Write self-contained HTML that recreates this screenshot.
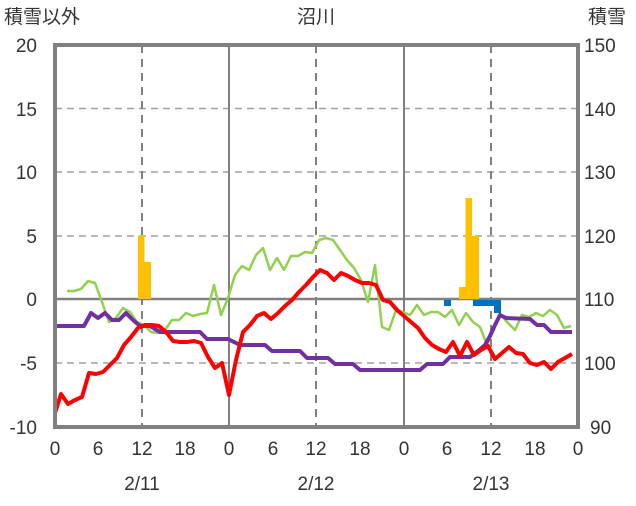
<!DOCTYPE html>
<html><head><meta charset="utf-8"><style>
body{margin:0;background:#fff;}
svg text{font-family:"Liberation Sans","Noto Sans CJK JP",sans-serif;fill:#333;font-size:19px;}
</style></head><body>
<svg width="636" height="501" viewBox="0 0 636 501" xmlns="http://www.w3.org/2000/svg">
<rect width="636" height="501" fill="#fff"/>
<g stroke="#a0a0a0" stroke-width="1.5" stroke-dasharray="7,5">
<line x1="55" y1="108.5" x2="578" y2="108.5"/>
<line x1="55" y1="172" x2="578" y2="172"/>
<line x1="55" y1="236" x2="578" y2="236"/>
<line x1="55" y1="363" x2="578" y2="363"/>
</g>
<g stroke="#808080" stroke-width="2" stroke-dasharray="8,6">
<line x1="142" y1="45" x2="142" y2="427"/>
<line x1="316" y1="45" x2="316" y2="427"/>
<line x1="491" y1="45" x2="491" y2="427"/>
</g>
<g stroke="#808080" stroke-width="2">
<line x1="229" y1="45" x2="229" y2="427"/>
<line x1="404" y1="45" x2="404" y2="427"/>
</g>
<line x1="55" y1="299" x2="578" y2="299" stroke="#808080" stroke-width="2.5"/>
<g fill="#ffc000">
<rect x="138" y="236" width="6.5" height="63"/>
<rect x="144.5" y="262" width="6.5" height="37"/>
<rect x="459" y="287" width="6.5" height="12"/>
<rect x="465.5" y="198" width="6.5" height="101"/>
<rect x="472" y="236" width="7" height="63"/>
</g>
<g fill="#0070c0">
<rect x="444" y="300" width="7" height="6"/>
<rect x="473" y="300" width="28" height="6"/>
<rect x="494" y="300" width="7" height="13"/>
</g>
<polyline fill="none" stroke="#92d050" stroke-width="2.5" stroke-linejoin="round" points="67,291 74,291 81,289 88,281 95,283 102,302 109,322 116,318 123,308 130,312 137,322 144,325 151,332 158,333 165,330 172,320 179,320 186,313 193,316 200,314 207,313 214,285 221,315 228,298 235,275 242,266 249,270 256,255 263,248 270,270 277,258 284,270 291,256 298,256 305,252 312,253 319,240 326,238 333,240 340,250 347,260 354,268 361,280 368,302 375,265 382,327 389,330 396,310 403,312 410,315 417,305 424,315 431,312 438,312 445,317 452,310 459,325 466,313 473,322 480,327 487,345 494,328 501,315 508,323 515,330 522,315 529,317 536,313 543,316 550,310 557,315 564,328 571,326"/>
<polyline fill="none" stroke="#7030a0" stroke-width="4" stroke-linejoin="round" points="55,326 84,326 91,313 98,318 105,313 112,320 119,320 126,313 133,320 140,326 150,326 160,332 200,332 207,339 228,339 240,345 265,345 272,351 300,351 307,358 328,358 335,364 353,364 360,370 420,370 427,364 443,364 450,357 470,357 478,351 485,345 490,336 495,325 500,315 506,318 530,319 537,325 544,325 551,332 572,332"/>
<polyline fill="none" stroke="#ff0000" stroke-width="4" stroke-linejoin="round" points="55,413 61,394 68,404 75,400 82,397 89,373 96,374 103,372 110,365 117,358 124,345 131,337 138,328 145,325 152,325 159,326 166,332 173,341 180,342 187,342 194,341 201,343 208,357 215,368 222,363 229,395 236,360 243,332 250,325 257,316 264,313 271,319 278,313 285,306 292,300 299,292 306,285 313,277 320,270 327,273 334,280 341,273 348,276 355,280 362,283 369,283 376,285 383,300 390,302 397,310 404,316 411,322 418,328 425,338 432,345 439,349 446,352 453,342 460,356 467,342 474,355 481,350 488,346 495,359 502,353 509,347 516,353 523,354 530,363 537,365 544,362 551,369 558,362 565,358 572,354"/>
<rect x="55" y="45" width="523" height="382" fill="none" stroke="#808080" stroke-width="4"/>
<g text-anchor="end" style="font-size:20px">
<text x="37" y="52">20</text><text x="37" y="116">15</text><text x="37" y="179">10</text>
<text x="37" y="243">5</text><text x="37" y="306">0</text><text x="37" y="370">-5</text><text x="37" y="434">-10</text>
</g>
<g text-anchor="start" style="font-size:20px">
<text x="584" y="52">150</text><text x="584" y="116">140</text><text x="584" y="179">130</text>
<text x="584" y="243">120</text><text x="584" y="306">110</text><text x="584" y="370">100</text><text x="590" y="434">90</text>
</g>
<g text-anchor="middle" style="font-size:20px">
<text x="55" y="455">0</text><text x="98" y="455">6</text><text x="142" y="455">12</text><text x="185" y="455">18</text>
<text x="229" y="455">0</text><text x="273" y="455">6</text><text x="316" y="455">12</text><text x="360" y="455">18</text>
<text x="404" y="455">0</text><text x="447" y="455">6</text><text x="491" y="455">12</text><text x="535" y="455">18</text><text x="578" y="455">0</text>
<text x="142" y="490">2/11</text><text x="316" y="490">2/12</text><text x="491" y="490">2/13</text>
<text x="316" y="23">沼川</text>
</g>
<text x="4" y="23">積雪以外</text>
<text x="588" y="23">積雪</text>
</svg>
</body></html>
